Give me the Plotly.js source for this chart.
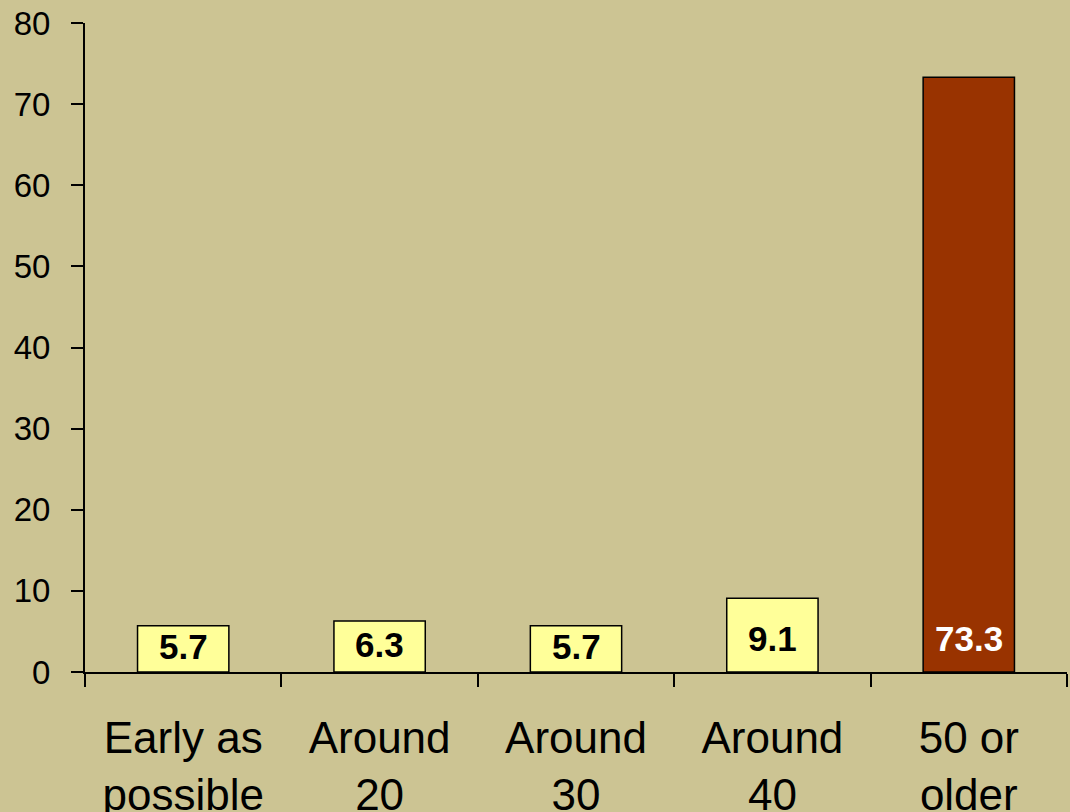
<!DOCTYPE html>
<html>
<head>
<meta charset="utf-8">
<script src="https://cdn.plot.ly/plotly-3.0.1.min.js"></script>
<style>
  html, body { margin: 0; padding: 0; background: #CCC493; }
  #chart { width: 1070px; height: 812px; }
</style>
</head>
<body>
<div id="chart"></div>
<script>
// Preferred age categories and the share (%) choosing each
const categories = ["Early as<br>possible", "Around<br>20", "Around<br>30", "Around<br>40", "50 or<br>older"];
const values = [5.7, 6.3, 5.7, 9.1, 73.3];
const barColors = ["#FFFF99", "#FFFF99", "#FFFF99", "#FFFF99", "#993300"];
const labelColors = ["#000000", "#000000", "#000000", "#000000", "#FFFFFF"];
const yTicks = [0, 10, 20, 30, 40, 50, 60, 70, 80];

const bg = "#CCC493";
const font = "Liberation Sans, Arial, sans-serif";

const trace = {
  type: "bar",
  x: categories,
  y: values,
  width: 0.465,
  marker: { color: barColors, line: { color: "#000000", width: 1.5 } },
  hoverinfo: "skip"
};

// value labels sit near the base of each bar
const annotations = values.map((v, i) => ({
  x: categories[i],
  y: Math.min(v / 2 + 0.3, 4.15),
  xref: "x",
  yref: "y",
  text: "<b>" + v.toFixed(1) + "</b>",
  showarrow: false,
  yanchor: "middle",
  font: { family: font, size: 35, color: labelColors[i] }
}));

const layout = {
  width: 1070,
  height: 812,
  margin: { l: 85, r: 3, t: 23, b: 140 },
  paper_bgcolor: bg,
  plot_bgcolor: bg,
  showlegend: false,
  bargap: 0.535,
  font: { family: font, color: "#000000" },
  xaxis: {
    type: "category",
    tickson: "boundaries",
    ticks: "outside",
    ticklen: 13,
    tickwidth: 2,
    tickcolor: "#000000",
    showline: true,
    linecolor: "#000000",
    linewidth: 2,
    showgrid: false,
    zeroline: false,
    ticklabelstandoff: 26,
    tickfont: { family: font, size: 44, color: "#000000" },
    fixedrange: true
  },
  yaxis: {
    range: [0, 80],
    tickvals: yTicks,
    ticktext: yTicks.map(String),
    ticks: "outside",
    ticklen: 12,
    tickwidth: 2,
    tickcolor: "#000000",
    showline: true,
    linecolor: "#000000",
    linewidth: 2,
    showgrid: false,
    zeroline: false,
    ticklabelstandoff: 14,
    tickfont: { family: font, size: 33, color: "#000000" },
    fixedrange: true
  },
  annotations: annotations
};

Plotly.newPlot("chart", [trace], layout, { displayModeBar: false, staticPlot: true });
</script>
</body>
</html>
